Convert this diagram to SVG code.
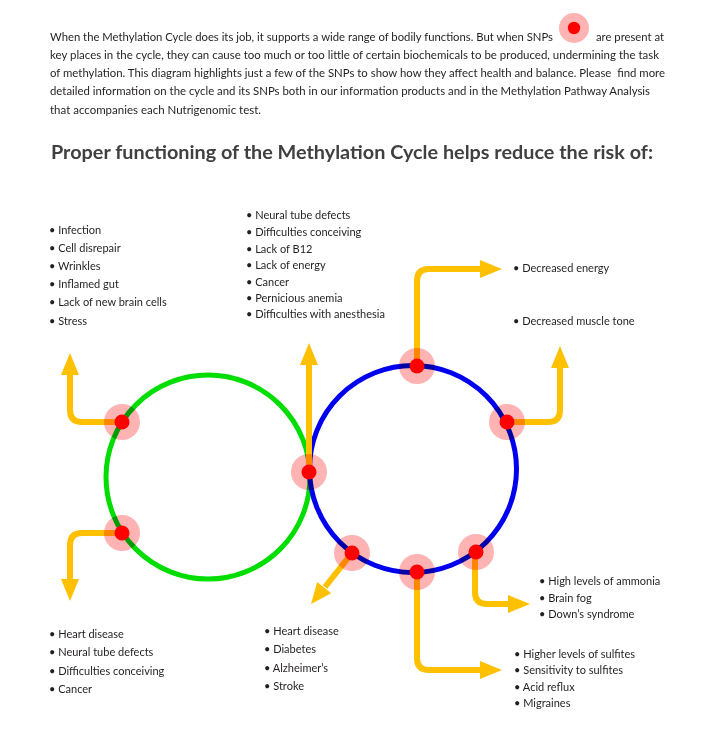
<svg xmlns="http://www.w3.org/2000/svg" width="703" height="736" viewBox="0 0 703 736">
<defs>
<style>
.t{font-family:Lato,"Liberation Sans",sans-serif;font-size:11px;fill:#231f20;white-space:pre}
.title{font-family:Lato,"Liberation Sans",sans-serif;font-size:18px;font-weight:bold;fill:#404040}
.arr{fill:none;stroke:#ffc000;stroke-width:6}
.head{fill:#ffc000}
.halo{fill:#ffb3b3;mix-blend-mode:multiply}
.dot{fill:#ff0000}
</style>
</defs>
<rect width="703" height="736" fill="#fff"/>
<g id="intro">
<text class="t" x="50" y="40.5" textLength="503" lengthAdjust="spacingAndGlyphs">When the Methylation Cycle does its job, it supports a wide range of bodily functions. But when SNPs</text>
<text class="t" x="596" y="40.5" textLength="68" lengthAdjust="spacingAndGlyphs">are present at</text>
<text class="t" x="50" y="58.5" textLength="609" lengthAdjust="spacingAndGlyphs">key places in the cycle, they can cause too much or too little of certain biochemicals to be produced, undermining the task</text>
<text class="t" x="50" y="77" textLength="615" lengthAdjust="spacingAndGlyphs">of methylation. This diagram highlights just a few of the SNPs to show how they affect health and balance. Please  find more</text>
<text class="t" x="50" y="95" textLength="600" lengthAdjust="spacingAndGlyphs">detailed information on the cycle and its SNPs both in our information products and in the Methylation Pathway Analysis</text>
<text class="t" x="50" y="113.5" textLength="211" lengthAdjust="spacingAndGlyphs">that accompanies each Nutrigenomic test.</text>
<circle cx="574" cy="28" r="15" fill="#ffb3b3"/>
<circle cx="574" cy="28" r="6.2" class="dot"/>
</g>
<text id="heading" class="title" x="51" y="159" textLength="602" lengthAdjust="spacingAndGlyphs">Proper functioning of the Methylation Cycle helps reduce the risk of:</text>
<g id="cycles">
<circle id="green-cycle" cx="208" cy="477" r="102" fill="none" stroke="#00dd00" stroke-width="5"/>
<circle id="blue-cycle" cx="413" cy="469" r="103.5" fill="none" stroke="#0000ee" stroke-width="5"/>
</g>
<g id="connectors">
<path class="arr" d="M122,422 H82 Q70,422 70,410 V372"/>
<polygon class="head" points="70,353 61,375 79,375"/>
<path class="arr" d="M122,533 H82 Q70,533 70,545 V582"/>
<polygon class="head" points="70,601 61,579 79,579"/>
<path class="arr" d="M309,472 V362"/>
<polygon class="head" points="309,343 300,365 318,365"/>
<path class="arr" d="M417,366 V281 Q417,269 429,269 H483"/>
<polygon class="head" points="502,269 480,260 480,278"/>
<path class="arr" d="M507,422 H548 Q560,422 560,410 V365"/>
<polygon class="head" points="560,346 551,368 569,368"/>
<path class="arr" d="M352,553 L325,587"/>
<polygon class="head" points="311,604 331.2,593.2 317.2,582"/>
<path class="arr" d="M417,572 V658 Q417,670 429,670 H483"/>
<polygon class="head" points="502,670 480,661 480,679"/>
<path class="arr" d="M475,552 V592 Q475,604 487,604 H511"/>
<polygon class="head" points="530,604 508,595 508,613"/>
</g>
<g id="snps">
<g id="snp1"><circle class="halo" cx="122" cy="422" r="18"/><circle class="dot" cx="122" cy="422" r="7.5"/></g>
<g id="snp2"><circle class="halo" cx="122" cy="533" r="18"/><circle class="dot" cx="122" cy="533" r="7.5"/></g>
<g id="snp3"><circle class="halo" cx="309" cy="472" r="18"/><circle class="dot" cx="309" cy="472" r="7.5"/></g>
<g id="snp4"><circle class="halo" cx="417" cy="366" r="18"/><circle class="dot" cx="417" cy="366" r="7.5"/></g>
<g id="snp5"><circle class="halo" cx="507" cy="422" r="18"/><circle class="dot" cx="507" cy="422" r="7.5"/></g>
<g id="snp6"><circle class="halo" cx="352" cy="553" r="18"/><circle class="dot" cx="352" cy="553" r="7.5"/></g>
<g id="snp7"><circle class="halo" cx="417" cy="572" r="18"/><circle class="dot" cx="417" cy="572" r="7.5"/></g>
<g id="snp8"><circle class="halo" cx="476" cy="552" r="18"/><circle class="dot" cx="476" cy="552" r="7.5"/></g>
</g>
<g id="list-top-left" class="t">
<text class="t" x="49" y="233.5">• Infection</text>
<text class="t" x="49" y="251.5">• Cell disrepair</text>
<text class="t" x="49" y="269.5">• Wrinkles</text>
<text class="t" x="49" y="288">• Inflamed gut</text>
<text class="t" x="49" y="306">• Lack of new brain cells</text>
<text class="t" x="49" y="324.5">• Stress</text>
</g>
<g id="list-top-mid">
<text class="t" x="246" y="218.5">• Neural tube defects</text>
<text class="t" x="246" y="235.5">• Difficulties conceiving</text>
<text class="t" x="246" y="252.5">• Lack of B12</text>
<text class="t" x="246" y="268.5">• Lack of energy</text>
<text class="t" x="246" y="285.5">• Cancer</text>
<text class="t" x="246" y="301.5">• Pernicious anemia</text>
<text class="t" x="246" y="317.5">• Difficulties with anesthesia</text>
</g>
<g id="list-energy"><text class="t" x="513" y="272">• Decreased energy</text></g>
<g id="list-muscle"><text class="t" x="513" y="325">• Decreased muscle tone</text></g>
<g id="list-bottom-left">
<text class="t" x="49" y="637.5">• Heart disease</text>
<text class="t" x="49" y="656">• Neural tube defects</text>
<text class="t" x="49" y="674.5">• Difficulties conceiving</text>
<text class="t" x="49" y="692.5">• Cancer</text>
</g>
<g id="list-bottom-mid">
<text class="t" x="264" y="634.5">• Heart disease</text>
<text class="t" x="264" y="653">• Diabetes</text>
<text class="t" x="264" y="671.5">• Alzheimer’s</text>
<text class="t" x="264" y="690">• Stroke</text>
</g>
<g id="list-ammonia">
<text class="t" x="539" y="584.5">• High levels of ammonia</text>
<text class="t" x="539" y="601.5">• Brain fog</text>
<text class="t" x="539" y="617.5">• Down’s syndrome</text>
</g>
<g id="list-sulfites">
<text class="t" x="514" y="657.5">• Higher levels of sulfites</text>
<text class="t" x="514" y="673.5">• Sensitivity to sulfites</text>
<text class="t" x="514" y="690.5">• Acid reflux</text>
<text class="t" x="514" y="706.5">• Migraines</text>
</g>
</svg>
